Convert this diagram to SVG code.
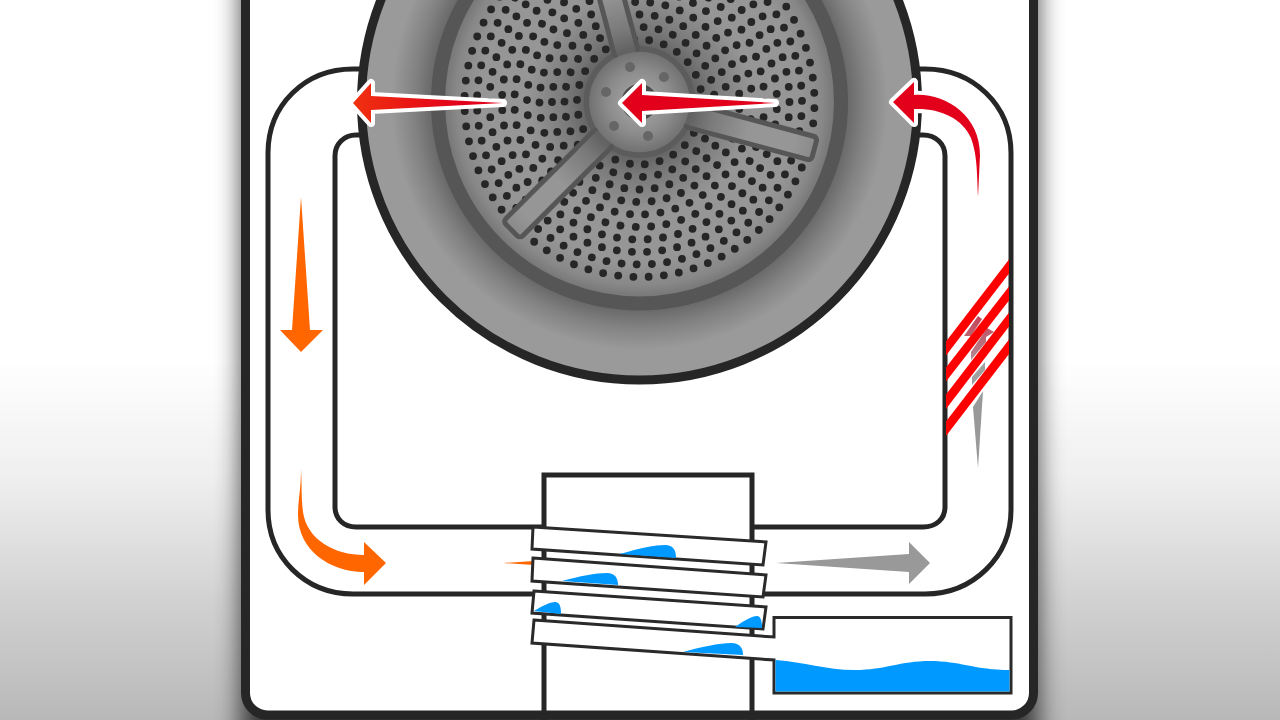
<svg xmlns="http://www.w3.org/2000/svg" width="1280" height="720" viewBox="0 0 1280 720">
<style>
.duct{fill:none;stroke:#262626;stroke-width:5}
.fin{fill:#fff;stroke:#2a2a2a;stroke-width:3;stroke-linejoin:miter}
.drop{fill:#0099ff}
.red{fill:#e2001a;stroke:#fff;stroke-width:8;stroke-linejoin:round;paint-order:stroke}
.orange{fill:#ff6600}
.gray{fill:#999}
.stripe{fill:#ff0000}
.holes{fill:none;stroke:#262626;stroke-width:7.8;stroke-linecap:round;stroke-dasharray:0 1}
.spoke{fill:url(#dish);stroke:#565656;stroke-width:5}
.cover{fill:url(#dish)}
.hubhole{fill:#666}
</style>
<defs>
<linearGradient id="bg" x1="0" y1="0" x2="0" y2="1">
<stop offset="0.5" stop-color="#fff"/><stop offset="0.67" stop-color="#eee"/><stop offset="0.83" stop-color="#d2d2d2"/><stop offset="1" stop-color="#b8b8b8"/>
</linearGradient>
<filter id="blur" x="-20%" y="-20%" width="140%" height="140%"><feGaussianBlur stdDeviation="13"/></filter>
<radialGradient id="annulus" gradientUnits="userSpaceOnUse" cx="0" cy="0" r="282">
<stop offset="0.73" stop-color="#666"/><stop offset="0.8" stop-color="#828282"/><stop offset="0.88" stop-color="#9a9a9a"/><stop offset="1" stop-color="#9a9a9a"/>
</radialGradient>
<radialGradient id="dish" gradientUnits="userSpaceOnUse" cx="0" cy="0" r="195">
<stop offset="0.27" stop-color="#626262"/><stop offset="0.38" stop-color="#7a7a7a"/><stop offset="0.58" stop-color="#969696"/><stop offset="0.82" stop-color="#969696"/><stop offset="0.94" stop-color="#888"/><stop offset="1" stop-color="#777"/>
</radialGradient>
<radialGradient id="hub" gradientUnits="userSpaceOnUse" cx="0" cy="0" r="53">
<stop offset="0" stop-color="#aaa"/><stop offset="0.6" stop-color="#8c8c8c"/><stop offset="1" stop-color="#6e6e6e"/>
</radialGradient>
<linearGradient id="redL" gradientUnits="userSpaceOnUse" x1="354" y1="0" x2="505" y2="0">
<stop offset="0" stop-color="#f03010"/><stop offset="0.7" stop-color="#e2001a"/>
</linearGradient>
<linearGradient id="rose" gradientUnits="userSpaceOnUse" x1="0" y1="320" x2="0" y2="385">
<stop offset="0" stop-color="#c4485c"/><stop offset="0.6" stop-color="#b08a92"/><stop offset="1" stop-color="#a0a0a0"/>
</linearGradient>
</defs>

<g id="background">
<rect width="1280" height="720" fill="url(#bg)"/>
<rect x="241" y="-60" width="797" height="840" fill="#000" opacity="0.7" filter="url(#blur)"/>
</g>

<g id="cabinet">
<rect x="245.5" y="-40" width="788" height="755" rx="22" fill="#fff" stroke="#262626" stroke-width="9"/>
</g>

<g id="connectors">
<path class="duct" d="M360,69 L353,69 C305,69 268,105 268,153 L268,510 C268,557 305,594 353,594 L545,594"/>
<path class="duct" d="M362,135 L356,135 C344,135 335,144 335,156 L335,507 C335,519 344,527 356,527 L545,527"/>
<path class="duct" d="M918,69 L925,69 C973,69 1011,105 1011,153 L1011,510 C1011,557 973,594 925,594 L752,594"/>
<path class="duct" d="M916,135 L923,135 C936,135 945,144 945,156 L945,507 C945,519 936,527 923,527 L752,527"/>
</g>

<g id="column">
<path class="duct" d="M544,730 L544,475 L752,475 L752,730"/>
</g>

<g id="drum" transform="translate(639.5,102)">
<circle r="278" fill="url(#annulus)" stroke="#262626" stroke-width="9"/>
<circle r="201.5" fill="url(#dish)" stroke="#565656" stroke-width="14"/>
<g id="perforations">
<circle class="holes" r="175" pathLength="72" transform="rotate(2)"/>
<circle class="holes" r="162.5" pathLength="67" transform="rotate(5)"/>
<circle class="holes" r="150" pathLength="62"/>
<circle class="holes" r="137.5" pathLength="56" transform="rotate(3)"/>
<circle class="holes" r="125" pathLength="51" transform="rotate(7)"/>
<circle class="holes" r="112.5" pathLength="46" transform="rotate(1)"/>
<circle class="holes" r="100" pathLength="41" transform="rotate(4)"/>
<circle class="holes" r="87.5" pathLength="36"/>
<circle class="holes" r="75" pathLength="31" transform="rotate(6)"/>
<circle class="holes" r="62.5" pathLength="26" transform="rotate(2)"/>
</g>
<circle r="53" fill="url(#hub)" stroke="#5c5c5c" stroke-width="5.5"/>
<g id="spokes">
<g transform="rotate(15)"><rect class="spoke" x="50" y="-12" width="131" height="24" rx="4"/><rect class="cover" x="46" y="-9.500" width="30" height="19"/></g>
<g transform="rotate(135)"><rect class="spoke" x="50" y="-12" width="131" height="24" rx="4"/><rect class="cover" x="46" y="-9.500" width="30" height="19"/></g>
<g transform="rotate(255)"><rect class="spoke" x="50" y="-12" width="240" height="24" rx="4"/><rect class="cover" x="46" y="-9.500" width="30" height="19"/></g>
</g>
<circle r="50" fill="url(#hub)"/>
<circle r="18" fill="#4a4a4a"/>
<circle class="hubhole" cx="-9.500" cy="-35" r="5"/>
<circle class="hubhole" cx="24.500" cy="-25" r="5"/>
<circle class="hubhole" cx="-33.500" cy="-10" r="5"/>
<circle class="hubhole" cx="-25.500" cy="24" r="5"/>
<circle class="hubhole" cx="8.500" cy="34" r="5"/>
</g>

<g id="heater">
<polygon class="gray" points="973,407 983,391 978,468"/>
<polygon fill="url(#rose)" points="964,336 978,316 982,319 971,336"/>
<polygon fill="url(#rose)" points="971,360 971,352 987,328 994,332 986,337 986,342"/>
<polygon fill="#a0a0a0" points="972,385 972,377 985,362 985,370"/>
<polygon class="stripe" points="946,341.500 1009,259.500 1009,273.500 946,355.500"/>
<polygon class="stripe" points="946,367.500 1009,286.500 1009,300.500 946,381.500"/>
<polygon class="stripe" points="946,394.500 1009,312.500 1009,326.500 946,409"/>
<polygon class="stripe" points="946,421.500 1009,339.500 1009,354 946,436"/>
</g>

<g id="flow-orange">
<polygon class="orange" points="301,197 310,330 323,330 301,352 280,330 292,330"/>
<path class="orange" d="M301,469 C301,490 298,500 298,515 C298,550 330,572 364,572 L364,585 L386,563 L364,542 L364,555 C335,555 307,540 303,512 C301,495 302,485 301,469Z"/>
<polygon class="orange" points="503,563 534,561 534,565"/>
</g>

<g id="flow-gray">
<polygon class="gray" points="776,563 909,554 909,542 930,563 909,584 909,572"/>
</g>

<g id="condenser">
<path class="fin" d="M533,527 L766,542 L763,565 L532,549Z"/>
<path class="fin" d="M533,558 L766,575 L763,597 L532,581Z"/>
<path class="fin" d="M534,591 L766,607 L763,629 L532,613Z"/>
<path class="fin" d="M534,620 L774,637 L774,617.5 L1011,617.5 L1011,693 L774,693 L774,660 L532,643Z"/>
<path class="drop" d="M620,554 C640,548 655,545 665,545 C673,545 676,550 676,558Z"/>
<path class="drop" d="M562,581 C580,576 595,573 607,573 C615,573 618,578 618,585Z"/>
<path class="drop" d="M534,611 C542,606 550,602 555,602 C560,602 561,607 561,614Z"/>
<path class="drop" d="M735,627 C745,620 752,616 757,616 C761,616 762,622 762,628Z"/>
<path class="drop" d="M683,652 C700,647 720,643 731,643 C740,643 743,648 743,655Z"/>
<path class="drop" d="M775.500,660 C805,662 825,670 855,670 C885,670 900,661 930,661 C960,661 975,670 1009.500,670 L1009.500,691.500 L775.500,691.500Z"/>
</g>

<g id="flow-red">
<path class="red" d="M353,103 L371,83 L371,96 L503,103 L371,110 L371,123Z" style="fill:url(#redL)"/>
<polygon class="red" points="622,103 642,83 642,95 775,103 642,111 642,123"/>
<path class="red" d="M893,102 L914,82 L914,95 C945,93 980,115 980,155 L978,197 C977,170 977,155 971,138 C962,118 940,108 914,109 L914,123Z"/>
</g>
</svg>
